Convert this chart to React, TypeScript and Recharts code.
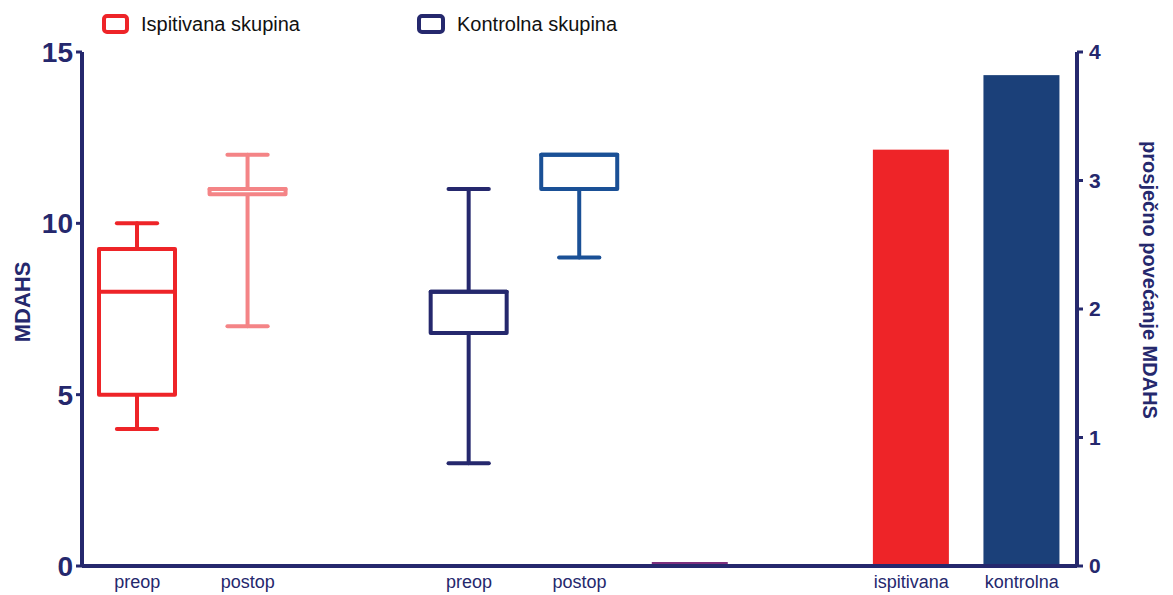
import React from 'react';
import { ComposedChart, Bar, XAxis, YAxis } from 'recharts';

const categories = ['ispPre', 'ispPost', 'gapA', 'konPre', 'konPost', 'razlika', 'gapB', 'ispitivana', 'kontrolna'];
const tickLabels = ['preop', 'postop', '', 'preop', 'postop', '', '', 'ispitivana', 'kontrolna'];

// box plot values (MDAHS, left axis)
const boxMin = [4, 7, null, 3, 9, null, null, null, null];
const boxQ1 = [5, 10.85, null, 6.8, 11, null, null, null, null];
const boxMedian = [8, 11, null, 8, 12, null, null, null, null];
const boxQ3 = [9.25, 11, null, 8, 12, null, null, null, null];
const boxMax = [10, 12, null, 11, 12, null, null, null, null];
const boxColors = ['#ee2428', '#f48486', '', '#25286d', '#1a5096', '', '', '', ''];

// mean increase (right axis)
const meanIncrease = [null, null, null, null, null, 0, null, 3.24, 3.82];
const meanColors = ['', '', '', '', '', '#7d2f7d', '', '#ee2428', '#1b4079'];

const leftTicks = [0, 5, 10, 15];
const rightTicks = [0, 1, 2, 3, 4];

const NAVY = '#25286d';
const FONT = '"Liberation Sans", Arial, sans-serif';

const data = categories.map((key, i) => ({
    key,
    range: boxMin[i] == null ? null : [boxMin[i], boxMax[i]],
    mean: meanIncrease[i],
}));

const slotOf = (props: any) => {
    const k = props.payload?.key;
    const i = categories.indexOf(k);
    return i >= 0 ? i : props.index;
};

const BoxShape = (props: any) => {
    const { x, y, width, height } = props;
    const i = slotOf(props);
    const lo = boxMin[i];
    const hi = boxMax[i];
    if (lo == null || hi == null || !height) return null;
    const py = (v: number) => y + ((hi - v) / (hi - lo)) * height;
    const c = boxColors[i];
    const cx = x + width / 2;
    const cap = width * 0.265;
    const q1 = boxQ1[i] as number;
    const q3 = boxQ3[i] as number;
    const med = boxMedian[i] as number;
    return (
        <g stroke={c} strokeWidth={4} strokeLinecap="round" strokeLinejoin="round" fill="none">
            {hi > q3 && (
                <>
                    <line x1={cx} x2={cx} y1={py(q3)} y2={py(hi)} />
                    <line x1={cx - cap} x2={cx + cap} y1={py(hi)} y2={py(hi)} />
                </>
            )}
            {lo < q1 && (
                <>
                    <line x1={cx} x2={cx} y1={py(q1)} y2={py(lo)} />
                    <line x1={cx - cap} x2={cx + cap} y1={py(lo)} y2={py(lo)} />
                </>
            )}
            <rect x={x} y={py(q3)} width={width} height={py(q1) - py(q3)} fill="#fff" />
            <line x1={x} x2={x + width} y1={py(med)} y2={py(med)} />
        </g>
    );
};

const MeanShape = (props: any) => {
    const { x, y, width, height } = props;
    const i = slotOf(props);
    const c = meanColors[i];
    if (!height) {
        return <line x1={x} x2={x + width} y1={y - 2.5} y2={y - 2.5} stroke={c} strokeWidth={3} />;
    }
    return <rect x={x} y={y} width={width} height={height} fill={c} />;
};

const LeftTitle = (props: any) => {
    const vb = props.viewBox;
    const x = vb.x + 14;
    const y = vb.y + vb.height / 2 - 7;
    return (
        <text x={x} y={y} transform={`rotate(-90, ${x}, ${y})`} textAnchor="middle" dominantBaseline="central"
            fill={NAVY} fontSize={22} fontWeight="bold" fontFamily={FONT}>
            MDAHS
        </text>
    );
};

const RightTitle = (props: any) => {
    const vb = props.viewBox;
    const x = vb.x + 73;
    const y = vb.y + vb.height / 2 - 29;
    return (
        <text x={x} y={y} transform={`rotate(90, ${x}, ${y})`} textAnchor="middle" dominantBaseline="central"
            fill={NAVY} fontSize={20} fontWeight="bold" fontFamily={FONT}>
            prosječno povećanje MDAHS
        </text>
    );
};

export default function App() {
    return (
        <div style={{ position: 'relative', width: 1165, height: 587 }}>
            <ComposedChart
                width={1165}
                height={587}
                data={data}
                margin={{ top: 44, right: 0, bottom: 0, left: 0 }}
            >
                <XAxis xAxisId="hidden" dataKey="key" orientation="top" height={0} hide />
                <XAxis
                    xAxisId="main"
                    dataKey="key"
                    height={29}
                    tickFormatter={(v: string) => tickLabels[categories.indexOf(v)]}
                    axisLine={{ stroke: NAVY, strokeWidth: 4 }}
                    tickLine={false}
                    tickSize={6}
                    tickMargin={3}
                    interval={0}
                    tick={{ fill: NAVY, fontSize: 18, fontFamily: FONT }}
                />
                <YAxis
                    yAxisId="left"
                    domain={[0, 15]}
                    ticks={leftTicks}
                    width={74}
                    axisLine={{ stroke: NAVY, strokeWidth: 4 }}
                    tickLine={{ stroke: NAVY, strokeWidth: 3 }}
                    tickSize={6}
                    tickMargin={3}
                    tick={{ fill: NAVY, fontSize: 28, fontWeight: 'bold', fontFamily: FONT }}
                    label={<LeftTitle />}
                />
                <YAxis
                    yAxisId="right"
                    orientation="right"
                    domain={[0, 4]}
                    ticks={rightTicks}
                    width={96}
                    axisLine={{ stroke: NAVY, strokeWidth: 4 }}
                    tickLine={{ stroke: NAVY, strokeWidth: 3 }}
                    tickSize={6}
                    tickMargin={6}
                    tick={{ fill: NAVY, fontSize: 21, fontWeight: 'bold', fontFamily: FONT }}
                    label={<RightTitle />}
                />
                <Bar
                    xAxisId="main"
                    yAxisId="left"
                    dataKey="range"
                    barSize={76}
                    shape={<BoxShape />}
                    isAnimationActive={false}
                />
                <Bar
                    xAxisId="hidden"
                    yAxisId="right"
                    dataKey="mean"
                    barSize={76}
                    shape={<MeanShape />}
                    isAnimationActive={false}
                />
            </ComposedChart>
            <svg width={700} height={40} style={{ position: 'absolute', left: 0, top: 0 }}>
                <rect x={96} y={8} width={23} height={16} rx={3} fill="#fff" stroke="#ee2428" strokeWidth={4} />
                <text x={133} y={23} fontSize={20} fontFamily={FONT} fill="#111">Ispitivana skupina</text>
                <rect x={411} y={8} width={24} height={16} rx={3} fill="#fff" stroke={NAVY} strokeWidth={4} />
                <text x={449} y={23} fontSize={20} fontFamily={FONT} fill="#111">Kontrolna skupina</text>
            </svg>
        </div>
    );
}
